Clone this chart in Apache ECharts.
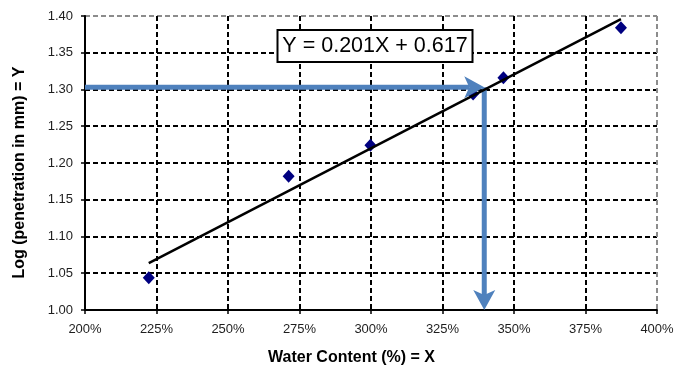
<!DOCTYPE html>
<html>
<head>
<meta charset="utf-8">
<script src="https://cdn.jsdelivr.net/npm/echarts@6/dist/echarts.min.js"></script>
<style>
  html, body { margin: 0; padding: 0; background: #ffffff; }
  #chart { width: 686px; height: 369px; }
</style>
</head>
<body>
<div id="chart"></div>
<script>
// Measured samples: water content (%) against log10 of cone penetration (mm)
const waterContent = [222.3, 271.2, 299.8, 335.7, 346.3, 387.4];
const logPenetration = [1.044, 1.182, 1.224, 1.294, 1.316, 1.384];

// Linear fit  Y = 0.201 X + 0.617  (X as a fraction, i.e. 3.00 = 300 %)
const fitSlope = 0.201;
const fitIntercept = 0.617;

// Read-off construction: from Y on the vertical axis across to the fit, then down to X
const readOffY = 1.303;
const readOffX = 339.6;

// Axis ticks
const xTicks = [200, 225, 250, 275, 300, 325, 350, 375, 400];
const yTicks = [1.00, 1.05, 1.10, 1.15, 1.20, 1.25, 1.30, 1.35, 1.40];

const FONT = 'Arial, "Liberation Sans", sans-serif';
const ARROW_BLUE = '#4f81bd';

const fit = x => fitSlope * x / 100 + fitIntercept;
const xMinData = Math.min(...waterContent);
const xMaxData = Math.max(...waterContent);
const trendPoints = [[xMinData, fit(xMinData)], [xMaxData, fit(xMaxData)]];

const arrows = [
  [xTicks[0], readOffY, readOffX, readOffY],
  [readOffX, readOffY, readOffX, yTicks[0]]
];

// grid line colours: inner lines black, the far edge (max) grey like a plot border
function edgeColors(n) {
  const c = [];
  for (let i = 0; i < n; i++) c.push(i === n - 1 ? '#8c8c8c' : '#000000');
  return c;
}

function renderArrow(params, api) {
  const a = api.coord([api.value(0), api.value(1)]);
  const b = api.coord([api.value(2), api.value(3)]);
  const dx = b[0] - a[0], dy = b[1] - a[1];
  const len = Math.hypot(dx, dy) || 1;
  const ux = dx / len, uy = dy / len;
  const nx = -uy, ny = ux;
  const headLen = 20, headHalf = 11, notch = 5;
  const bx = b[0] - ux * headLen, by = b[1] - uy * headLen;
  const mx = b[0] - ux * (headLen - notch), my = b[1] - uy * (headLen - notch);
  return {
    type: 'group',
    children: [
      {
        type: 'line',
        shape: { x1: a[0], y1: a[1], x2: mx, y2: my },
        style: { stroke: ARROW_BLUE, lineWidth: 5, lineCap: 'butt' }
      },
      {
        type: 'polygon',
        shape: { points: [[b[0], b[1]], [bx + nx * headHalf, by + ny * headHalf], [mx, my], [bx - nx * headHalf, by - ny * headHalf]] },
        style: { fill: ARROW_BLUE }
      }
    ]
  };
}

const chart = echarts.init(document.getElementById('chart'), null, { renderer: 'canvas' });

chart.setOption({
  animation: false,
  backgroundColor: '#ffffff',
  grid: { left: 85, right: 29, top: 16, bottom: 59, containLabel: false },
  xAxis: {
    type: 'value',
    min: xTicks[0],
    max: xTicks[xTicks.length - 1],
    interval: xTicks[1] - xTicks[0],
    axisLine: { show: true, onZero: false, lineStyle: { color: '#000', width: 2 } },
    axisTick: { show: true, inside: false, length: 4, lineStyle: { color: '#000', width: 1.5 } },
    axisLabel: {
      margin: 13,
      color: '#1e1e1e',
      fontFamily: FONT,
      fontSize: 13,
      formatter: v => v + '%'
    },
    splitLine: {
      show: true,
      lineStyle: { color: edgeColors(xTicks.length), width: 2, type: [5, 3] }
    }
  },
  yAxis: {
    type: 'value',
    min: yTicks[0],
    max: yTicks[yTicks.length - 1],
    interval: 0.05,
    axisLine: { show: true, onZero: false, lineStyle: { color: '#000', width: 2 } },
    axisTick: { show: true, inside: false, length: 4, lineStyle: { color: '#000', width: 1.5 } },
    axisLabel: {
      margin: 12,
      color: '#1e1e1e',
      fontFamily: FONT,
      fontSize: 13,
      formatter: v => v.toFixed(2)
    },
    splitLine: {
      show: true,
      lineStyle: { color: edgeColors(yTicks.length), width: 2, type: [5, 3] }
    }
  },
  series: [
    {
      name: 'Samples',
      type: 'scatter',
      z: 2,
      symbol: 'diamond',
      symbolSize: [12, 13],
      itemStyle: { color: '#000080', opacity: 1 },
      data: waterContent.map((x, i) => [x, logPenetration[i]])
    },
    {
      name: 'Read-off',
      type: 'custom',
      z: 3,
      silent: true,
      renderItem: renderArrow,
      encode: { x: [0, 2], y: [1, 3] },
      data: arrows
    },
    {
      name: 'Fit',
      type: 'line',
      z: 4,
      symbol: 'none',
      silent: true,
      lineStyle: { color: '#000', width: 2.5 },
      data: trendPoints
    }
  ],
  graphic: [
    {
      type: 'rect',
      z: 100,
      shape: { x: 277.5, y: 30, width: 195, height: 32 },
      style: { fill: '#ffffff', stroke: '#000000', lineWidth: 2 }
    },
    {
      type: 'text',
      z: 101,
      x: 375,
      y: 46.5,
      style: {
        text: 'Y = 0.201X + 0.617',
        fill: '#000000',
        font: '21.5px ' + FONT,
        align: 'center',
        verticalAlign: 'middle'
      }
    },
    {
      type: 'text',
      z: 101,
      x: 351.5,
      y: 358,
      style: {
        text: 'Water Content (%) = X',
        fill: '#000000',
        font: 'bold 16px ' + FONT,
        align: 'center',
        verticalAlign: 'middle'
      }
    },
    {
      type: 'text',
      z: 101,
      x: 20,
      y: 172.5,
      rotation: Math.PI / 2,
      style: {
        text: 'Log (penetration in mm) = Y',
        fill: '#000000',
        font: 'bold 16px ' + FONT,
        align: 'center',
        verticalAlign: 'middle'
      }
    }
  ]
});
</script>
</body>
</html>
